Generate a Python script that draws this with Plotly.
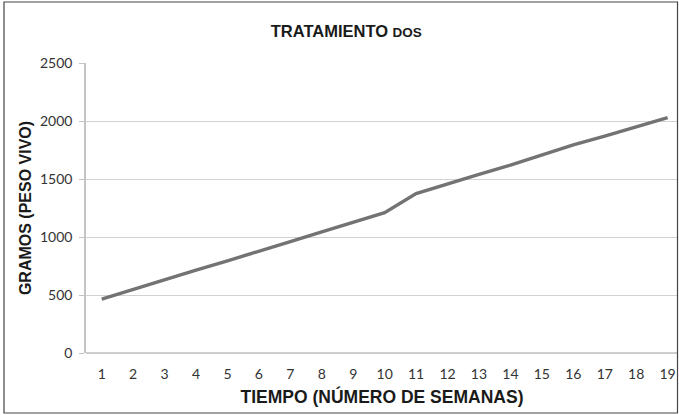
import plotly.graph_objects as go

semanas = list(range(1, 20))
tick_labels = [str(s) for s in semanas]
gramos = [465, 550, 635, 715, 795, 875, 960, 1045, 1130, 1210,
          1375, 1460, 1540, 1620, 1705, 1795, 1870, 1950, 2030]

W, H = 679, 415
L, R, T, B = 86, 678, 63, 353

def px(x):
    return (x - L) / (R - L)

def py(y):
    return (B - y) / (B - T)

fig = go.Figure()
fig.add_trace(go.Scatter(
    x=semanas, y=gramos, mode="lines",
    line=dict(color="#737373", width=3.4),
    showlegend=False, hoverinfo="skip"))

fig.update_layout(
    width=W, height=H,
    margin=dict(l=L, r=W - R, t=T, b=H - B, pad=0, autoexpand=False),
    paper_bgcolor="white", plot_bgcolor="white",
    title=dict(text="<b>TRATAMIENTO <span style='font-size:13.5px'>DOS</span></b>",
               x=0.51, xanchor="center", y=1 - 31 / H, yanchor="middle",
               font=dict(family="Liberation Sans, Arial", size=16.5, color="#1a1a1a")),
    xaxis=dict(
        range=[0.5, 19.33], tickmode="array", tickvals=semanas, ticktext=tick_labels,
        showgrid=False, zeroline=False, showline=False, ticks="",
        ticklabelstandoff=11, automargin=False,
        tickfont=dict(family="Lato, Open Sans", size=14, color="#333333"),
        title=dict(text="<b>TIEMPO (NÚMERO DE SEMANAS)</b>", standoff=9,
                   font=dict(family="Liberation Sans, Arial", size=17.5, color="#1a1a1a")),
    ),
    yaxis=dict(
        range=[0, 2500], tickvals=[0, 500, 1000, 1500, 2000, 2500],
        showgrid=True, gridcolor="#d2d2d2", gridwidth=1.2,
        zeroline=False, showline=True, linecolor="#c4c4c4", linewidth=1.5,
        ticks="outside", ticklen=5, tickcolor="#c4c4c4",
        ticklabelstandoff=4, automargin=False,
        tickfont=dict(family="Lato, Open Sans", size=14, color="#333333"),
        title=dict(text="<b>GRAMOS (PESO VIVO)</b>", standoff=4,
                   font=dict(family="Liberation Sans, Arial", size=16, color="#1a1a1a")),
    ),
    shapes=[
        dict(type="line", xref="paper", yref="paper", x0=0, x1=1, y0=0, y1=0,
             line=dict(color="#bdbdbd", width=1.5)),
        dict(type="rect", xref="paper", yref="paper",
             x0=px(4), x1=px(677.5), y0=py(413), y1=py(2),
             line=dict(color="#444444", width=1.2), fillcolor="rgba(0,0,0,0)", layer="above"),
    ],
)

fig.write_html("out.html", config={"displayModeBar": False},
               post_script="document.body.style.margin='0';document.body.style.overflow='hidden';")
